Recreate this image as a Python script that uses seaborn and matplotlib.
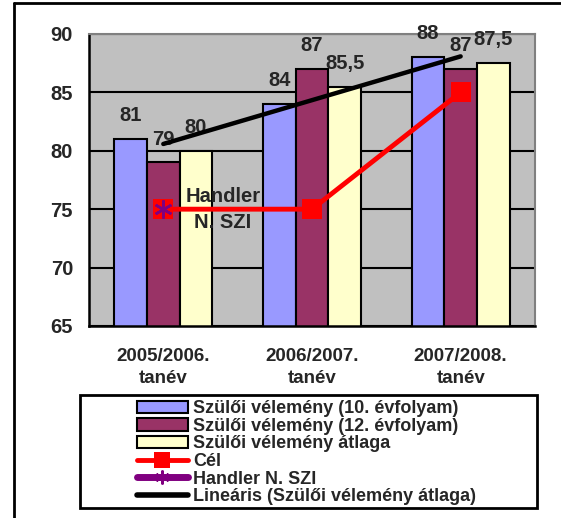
import numpy as np
import pandas as pd
import seaborn as sns
import matplotlib.pyplot as plt
from matplotlib.lines import Line2D
from matplotlib.patches import Rectangle

# adatok
tanevek = ["2005/2006.\ntanév", "2006/2007.\ntanév", "2007/2008.\ntanév"]
sorozatok = ["Szülői vélemény (10. évfolyam)", "Szülői vélemény (12. évfolyam)",
             "Szülői vélemény átlaga"]
ertek_10 = [81, 84, 88]
ertek_12 = [79, 87, 87]
atlag = [80, 85.5, 87.5]
cel = [75, 75, 85]
handler = [75, np.nan, np.nan]
handler_felirat = "Handler\nN. SZI"
yticks = [65, 70, 75, 80, 85, 90]

sns.set_style("white")
plt.rcParams['font.family'] = ['Liberation Sans', 'DejaVu Sans']
plt.rcParams['font.weight'] = 'bold'

df = pd.DataFrame({
    'tanev': tanevek * 3,
    'sorozat': [s for s in sorozatok for _ in tanevek],
    'ertek': ertek_10 + ertek_12 + atlag,
})

fig = plt.figure(figsize=(5.61, 5.18), dpi=100)
ax = fig.add_axes([0.1586, 0.3707, 0.795, 0.5637])
ax.set_facecolor('#C0C0C0')

sns.barplot(data=df, x='tanev', y='ertek', hue='sorozat', hue_order=sorozatok,
            palette=['#9999FF', '#993366', '#FFFFCC'], width=0.66,
            edgecolor='black', linewidth=1.5, saturation=1, legend=False,
            errorbar=None, ax=ax, zorder=2)

for cont, vals in zip(ax.containers, [ertek_10, ertek_12, atlag]):
    ax.bar_label(cont, labels=[f"{v:g}".replace('.', ',') for v in vals],
                 padding=10, fontsize=14.5, fontweight='bold')

x = np.arange(len(tanevek))
sns.lineplot(x=x, y=cel, color='red', lw=3.5, marker='s', markersize=15,
             markeredgewidth=0, ax=ax, zorder=4)
sns.lineplot(x=x, y=handler, color='#800080', lw=5, marker=(6, 2, 0),
             markersize=13, markeredgewidth=1.8, markeredgecolor='#800080',
             ax=ax, zorder=5)
ax.annotate(handler_felirat, (x[0], handler[0]), xytext=(43, 0),
            textcoords='offset points', ha='center', va='center',
            fontsize=14.5, fontweight='bold', linespacing=1.45, zorder=6)

# lineáris trend az átlagra
m, b = np.polyfit(x, atlag, 1)
sns.lineplot(x=x, y=m * x + b, color='black', lw=3.2, ax=ax, zorder=3)

ax.set_ylim(65, 90)
ax.set_xlim(-0.5, 2.5)
ax.set_yticks(yticks)
ax.yaxis.grid(True, color='black', lw=1.5, zorder=1)
ax.set_axisbelow(True)
ax.set_xlabel('')
ax.set_ylabel('')
ax.set_xticks(x)
ax.set_xticklabels(tanevek, fontsize=13.5, fontweight='bold', linespacing=1.4)
ax.set_xticks([-0.5, 0.5, 1.5, 2.5], minor=True)
ax.tick_params(axis='x', which='major', length=0, pad=16)
ax.tick_params(axis='x', which='minor', length=5, width=1.5, color='black', direction='out')
ax.tick_params(axis='y', length=6.5, width=1.5, color='black', direction='out',
               labelsize=14.5, pad=5)
for t in ax.get_yticklabels():
    t.set_fontweight('bold')
for s in ['left', 'bottom']:
    ax.spines[s].set_color('black')
    ax.spines[s].set_linewidth(1.8)
for s in ['top', 'right']:
    ax.spines[s].set_color('#808080')
    ax.spines[s].set_linewidth(1.5)

handles = list(ax.containers[:3]) + [
    Line2D([], [], color='red', lw=3.5, marker='s', markersize=11, markeredgewidth=0),
    Line2D([], [], color='#800080', lw=5, marker=(6, 2, 0), markersize=10,
           markeredgewidth=1.5, markeredgecolor='#800080'),
    Line2D([], [], color='black', lw=4),
]
labels = sorozatok + ["Cél", "Handler N. SZI", "Lineáris (Szülői vélemény átlaga)"]
fig.legend(handles, labels, loc='upper left', bbox_to_anchor=(0.2442, 0.2270),
           frameon=False, borderpad=0, borderaxespad=0,
           prop={'weight': 'bold', 'size': 13}, labelspacing=0.03,
           handlelength=2.8, handletextpad=0.3, handleheight=0.7)
fig.add_artist(Rectangle((80 / 561, 1 - 508 / 518), 457 / 561, 113 / 518,
                         transform=fig.transFigure, fill=False, lw=2, ec='black'))

# keret
fig.add_artist(Line2D([14 / 561, 14 / 561], [0, 1 - 3 / 518], transform=fig.transFigure,
                      color='black', lw=2))
fig.add_artist(Line2D([14 / 561, 1], [1 - 3 / 518, 1 - 3 / 518], transform=fig.transFigure,
                      color='black', lw=2))

fig.savefig('out.png', dpi=100)
